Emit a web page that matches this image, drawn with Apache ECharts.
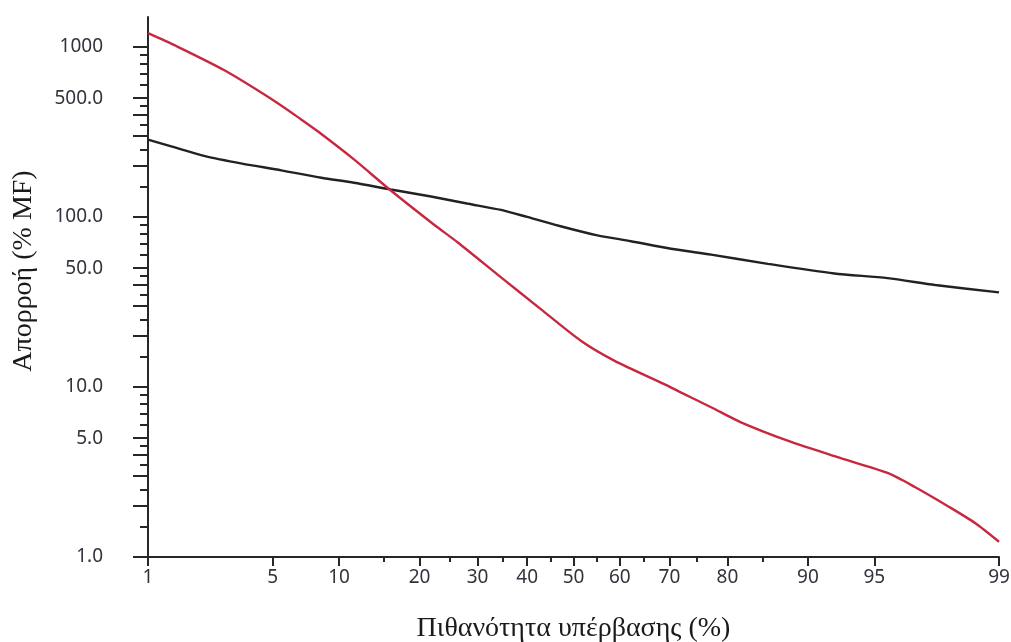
<!DOCTYPE html>
<html>
<head>
<meta charset="utf-8">
<script src="https://cdn.jsdelivr.net/npm/echarts@6/dist/echarts.min.js"></script>
<style>
  html, body { margin: 0; padding: 0; background: #ffffff; }
  #chart { width: 1011px; height: 642px; }
</style>
</head>
<body>
<div id="chart"></div>
<script>
// Flow duration curves: exceedance probability (%) vs runoff (% of mean flow)
const probBlack = [1, 1.5, 2.2, 3.5, 5.5, 8.4, 11.5, 15.9, 21.8, 28, 34.6, 40, 48, 55.2, 62.3, 70.3, 77.4, 85.6, 92.3, 95.7, 97.6, 99];
const flowBlack = [285, 255, 228, 206, 188, 170, 159, 145, 132, 120, 110, 100, 87, 78, 72, 65, 60, 53, 46.5, 43.7, 39.8, 36];

const probRed = [1, 1.5, 2.8, 5.1, 6.8, 8.1, 11.5, 15.9, 22.3, 26.3, 34.6, 42.9, 51.6, 58.8, 69, 72.1, 77.4, 82, 88.3, 92.5, 95.7, 96.9, 98, 98.6, 99];
const flowRed = [1205, 1010, 731, 481, 376, 319, 218, 143, 90, 71, 44.1, 28.7, 18.7, 14.3, 10.4, 9.3, 7.6, 6.2, 4.75, 3.88, 3.12, 2.58, 1.97, 1.58, 1.23];

// Probability-axis ticks (%)
const xMajorTicks = [1, 5, 10, 20, 30, 40, 50, 60, 70, 80, 90, 95, 99];
const xMinorTicks = [15, 25, 35, 45, 55, 65, 75, 85];

// Log-axis ticks
const yLabelTicks = [1, 5, 10, 50, 100, 500, 1000];
const yLongMultipliers = [1, 2, 3, 4, 5];
const yShortMultipliers = [1.5, 2.5, 3.5, 4.5, 6, 7, 8, 9];
const yDecades = [1, 10, 100];
const yMin = 1, yMax = 1500;

// Inverse standard normal CDF (Acklam), used as the probability-paper transform
function probit(p) {
  const a = [-3.969683028665376e+01, 2.209460984245205e+02, -2.759285104469687e+02, 1.383577518672690e+02, -3.066479806614716e+01, 2.506628277459239e+00];
  const b = [-5.447609879822406e+01, 1.615858368580409e+02, -1.556989798598866e+02, 6.680131188771972e+01, -1.328068155288572e+01];
  const c = [-7.784894002430293e-03, -3.223964580411365e-01, -2.400758277161838e+00, -2.549732539343734e+00, 4.374664141464968e+00, 2.938163982698783e+00];
  const d = [7.784695709041462e-03, 3.224671290700398e-01, 2.445134137142996e+00, 3.754408661907416e+00];
  const pl = 0.02425, ph = 1 - pl;
  let q, r;
  if (p < pl) {
    q = Math.sqrt(-2 * Math.log(p));
    return (((((c[0]*q + c[1])*q + c[2])*q + c[3])*q + c[4])*q + c[5]) / ((((d[0]*q + d[1])*q + d[2])*q + d[3])*q + 1);
  }
  if (p <= ph) {
    q = p - 0.5; r = q * q;
    return (((((a[0]*r + a[1])*r + a[2])*r + a[3])*r + a[4])*r + a[5]) * q / (((((b[0]*r + b[1])*r + b[2])*r + b[3])*r + b[4])*r + 1);
  }
  q = Math.sqrt(-2 * Math.log(1 - p));
  return -(((((c[0]*q + c[1])*q + c[2])*q + c[3])*q + c[4])*q + c[5]) / ((((d[0]*q + d[1])*q + d[2])*q + d[3])*q + 1);
}
const z = pct => probit(pct / 100);

const yLongTicks = [];
const yShortTicks = [];
yDecades.forEach(dec => {
  yLongMultipliers.forEach(m => yLongTicks.push(m * dec));
  yShortMultipliers.forEach(m => yShortTicks.push(m * dec));
});
yLongTicks.push(1000);

const xMin = z(xMajorTicks[0]);
const xMax = z(xMajorTicks[xMajorTicks.length - 1]);

const labelFont = { fontFamily: 'Noto Sans', fontSize: 19, color: '#33333d' };
const titleFont = { fontFamily: 'Liberation Serif', fontSize: 28, color: '#1a1a1a' };
const axisColor = '#262626';

function xLabel(v) {
  let best = xMajorTicks[0], bd = Infinity;
  xMajorTicks.forEach(t => { const dd = Math.abs(z(t) - v); if (dd < bd) { bd = dd; best = t; } });
  return String(best);
}
function yLabel(v) {
  const r = Math.round(v * 10) / 10;
  return r >= 1000 ? String(Math.round(r)) : r.toFixed(1);
}

const chart = echarts.init(document.getElementById('chart'), null, { renderer: 'canvas' });
chart.setOption({
  backgroundColor: '#ffffff',
  animation: false,
  grid: { left: 148, right: 12, top: 17, bottom: 85, containLabel: false, outerBoundsMode: 'none' },
  xAxis: [
    {
      type: 'value', min: xMin, max: xMax, position: 'bottom',
      name: 'Πιθανότητα υπέρβασης (%)', nameLocation: 'middle', nameGap: 58,
      nameTextStyle: titleFont,
      axisLine: { show: true, onZero: false, lineStyle: { color: axisColor, width: 2 } },
      axisTick: { show: true, inside: false, length: 9, customValues: xMajorTicks.map(z), lineStyle: { color: axisColor, width: 2 } },
      axisLabel: { show: true, margin: 11, customValues: xMajorTicks.map(z), formatter: xLabel, ...labelFont },
      splitLine: { show: false }
    },
    {
      type: 'value', min: xMin, max: xMax, position: 'bottom', offset: 0,
      axisLine: { show: false, onZero: false },
      axisTick: { show: true, inside: false, length: 5, customValues: xMinorTicks.map(z), lineStyle: { color: axisColor, width: 2 } },
      axisLabel: { show: false },
      splitLine: { show: false }
    }
  ],
  yAxis: [
    {
      type: 'log', logBase: 10, min: yMin, max: yMax, position: 'left',
      name: 'Απορροή (% MF)', nameLocation: 'middle', nameGap: 110, nameRotate: 90,
      nameTextStyle: { ...titleFont, padding: [0, 0, 0, 32] },
      axisLine: { show: true, onZero: false, lineStyle: { color: axisColor, width: 2 } },
      axisTick: { show: true, inside: false, length: 15, customValues: yLongTicks, lineStyle: { color: axisColor, width: 2 } },
      axisLabel: { show: true, margin: 45, customValues: yLabelTicks, formatter: yLabel, ...labelFont },
      splitLine: { show: false }
    },
    {
      type: 'log', logBase: 10, min: yMin, max: yMax, position: 'left', offset: 0,
      axisLine: { show: false, onZero: false },
      axisTick: { show: true, inside: false, length: 8, customValues: yShortTicks, lineStyle: { color: axisColor, width: 2 } },
      axisLabel: { show: false },
      splitLine: { show: false }
    }
  ],
  series: [
    {
      name: 'black', type: 'line', xAxisIndex: 0, yAxisIndex: 0,
      data: probBlack.map((p, i) => [z(p), flowBlack[i]]),
      showSymbol: false, smooth: 0.25,
      lineStyle: { color: '#222222', width: 2.4 }
    },
    {
      name: 'red', type: 'line', xAxisIndex: 0, yAxisIndex: 0,
      data: probRed.map((p, i) => [z(p), flowRed[i]]),
      showSymbol: false, smooth: 0.25,
      lineStyle: { color: '#c8283f', width: 2.4 }
    }
  ]
});
</script>
</body>
</html>
